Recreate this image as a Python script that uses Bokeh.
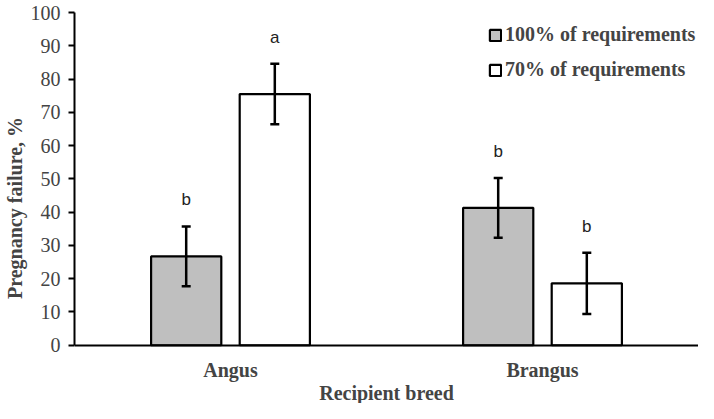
from bokeh.plotting import figure
from bokeh.models import ColumnDataSource, Whisker, Legend, LegendItem, FactorRange, Range1d, TeeHead
from bokeh.transform import dodge
from bokeh.core.properties import value
from bokeh.embed import file_html
from bokeh.resources import INLINE

breeds = ["Angus", "Brangus"]
series = ["100% of requirements", "70% of requirements"]
x_title = "Recipient breed"
y_title = "Pregnancy failure, %"
full_req = [26.7, 41.3]
full_err = [9.0, 9.0]
full_sig = ["b", "b"]
low_req = [75.5, 18.6]
low_err = [9.1, 9.2]
low_sig = ["a", "b"]
y_ticks = list(range(0, 101, 10))

OFF = 0.142
BW = 0.225
SERIF = "Liberation Serif"

src_full = ColumnDataSource(dict(breed=breeds, top=full_req,
                                 upper=[v + e for v, e in zip(full_req, full_err)],
                                 lower=[v - e for v, e in zip(full_req, full_err)],
                                 lab_y=[v + e + 8 for v, e in zip(full_req, full_err)],
                                 sig=full_sig))
src_low = ColumnDataSource(dict(breed=breeds, top=low_req,
                                upper=[v + e for v, e in zip(low_req, low_err)],
                                lower=[v - e for v, e in zip(low_req, low_err)],
                                lab_y=[v + e + 8 for v, e in zip(low_req, low_err)],
                                sig=low_sig))

p = figure(width=698, height=403, x_range=FactorRange(*breeds, range_padding=0),
           y_range=Range1d(-17.5, 100), output_backend="svg", toolbar_location=None,
           min_border_left=63, min_border_right=0, min_border_top=12, min_border_bottom=0)
p.outline_line_color = None
p.background_fill_color = "white"
p.border_fill_color = "white"
p.xgrid.visible = False
p.ygrid.visible = False

r1 = p.vbar(x=dodge("breed", -OFF, range=p.x_range), top="top", bottom=0, width=BW, source=src_full,
            fill_color="#bfbfbf", line_color="black", line_width=2.2)
r2 = p.vbar(x=dodge("breed", OFF, range=p.x_range), top="top", bottom=0, width=BW, source=src_low,
            fill_color="white", line_color="black", line_width=2.2)

for src, off in ((src_full, -OFF), (src_low, OFF)):
    w = Whisker(base=dodge("breed", off, range=p.x_range), upper="upper", lower="lower",
                source=src, line_color="black", line_width=2.5, level="overlay",
                upper_head=TeeHead(size=9, line_width=2.5, line_color="black"),
                lower_head=TeeHead(size=9, line_width=2.5, line_color="black"))
    p.add_layout(w)
    p.text(x=dodge("breed", off, range=p.x_range), y="lab_y", text="sig", source=src,
           text_align="center", text_baseline="middle", text_font=value("Liberation Sans"),
           text_font_size="17px", text_color="#222222")

# axes
p.yaxis.ticker = y_ticks
p.yaxis.bounds = (0, 100)
p.yaxis.axis_label = y_title
p.yaxis.axis_label_text_font = SERIF
p.yaxis.axis_label_text_font_style = "bold"
p.yaxis.axis_label_text_font_size = "20px"
p.yaxis.axis_label_standoff = 2
p.yaxis.major_label_text_font = SERIF
p.yaxis.major_label_text_font_size = "20px"
p.yaxis.major_label_standoff = 8
p.yaxis.major_tick_out = 6
p.yaxis.major_tick_in = 0
p.yaxis.minor_tick_line_color = None
p.yaxis.axis_line_width = 2
p.yaxis.major_tick_line_width = 2

p.xaxis.fixed_location = 0
p.xaxis.axis_label = x_title
p.xaxis.axis_label_text_font = SERIF
p.xaxis.axis_label_text_font_style = "bold"
p.xaxis.axis_label_text_font_size = "20px"
p.xaxis.axis_label_standoff = -3
p.xaxis.major_label_text_font = SERIF
p.xaxis.major_label_text_font_style = "bold"
p.xaxis.major_label_text_font_size = "20px"
p.xaxis.major_label_standoff = 14
p.xaxis.major_tick_out = 0
p.xaxis.major_tick_in = 0
p.xaxis.major_tick_line_color = None
p.xaxis.axis_line_width = 2

legend = Legend(items=[LegendItem(label=series[0], renderers=[r1]),
                       LegendItem(label=series[1], renderers=[r2])],
                location=(414, 322), padding=0, margin=0, spacing=12,
                glyph_width=14, glyph_height=14, label_height=20, label_standoff=3,
                border_line_color=None, background_fill_alpha=0,
                label_text_font=SERIF, label_text_font_style="bold",
                label_text_font_size="20px")
p.add_layout(legend)

open("out.html", "w").write(file_html(p, INLINE))
